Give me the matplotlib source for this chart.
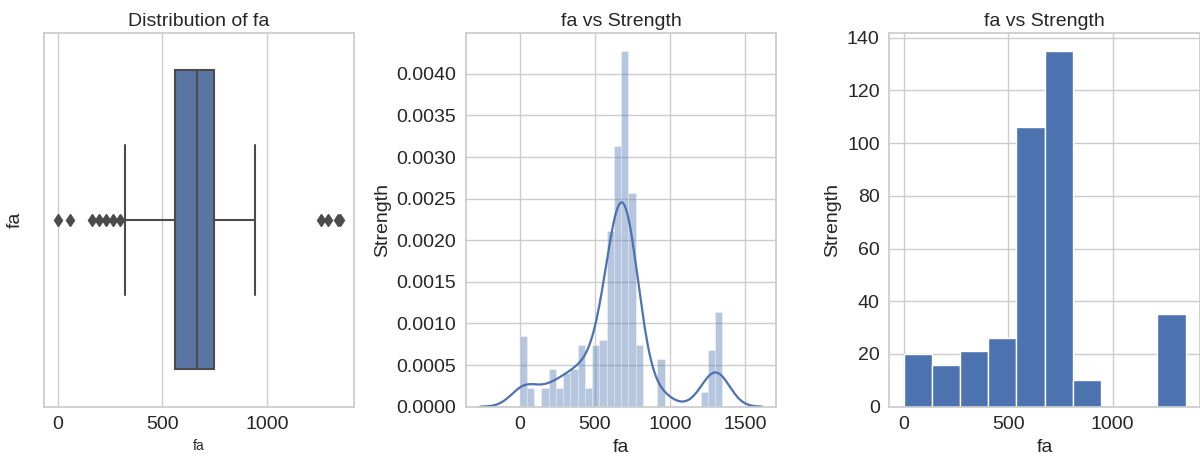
import numpy as np
import matplotlib
matplotlib.use("Agg")
import matplotlib.pyplot as plt
import seaborn as sns

# ---- fine aggregate (fa) data summary ----
fa_min = 0
fa_max = 1349

# box plot statistics
box_q1 = 561
box_median = 665
box_q3 = 745
whisker_low = 323
whisker_high = 942
outliers = [0, 59, 163, 197, 230, 264, 296, 1259, 1291, 1339, 1349]

# counts in 28 equal bins over [fa_min, fa_max] (density histogram + KDE)
fine_bin_counts = [15, 4, 0, 4, 8, 4, 7, 8, 13, 4, 13, 14, 37, 55, 75, 45,
                   13, 0, 0, 10, 0, 0, 0, 0, 0, 3, 12, 20]

# counts in 10 equal bins over [fa_min, fa_max]
coarse_bin_counts = [20, 16, 21, 26, 106, 135, 10, 0, 0, 35]

# ---- style ----
sns.set_style("whitegrid")
plt.rcParams["font.family"] = ["Liberation Sans", "DejaVu Sans"]
plt.rcParams["axes.linewidth"] = 1.25
plt.rcParams["grid.linewidth"] = 1.0
TXT = "#262626"
BLUE = "#4c72b0"
FS = 14

fig = plt.figure(figsize=(12, 4.63), dpi=100)
w = 0.2585
bottom, height = 0.1216, 0.807
ax1 = fig.add_axes([0.0364, bottom, w, height])
ax2 = fig.add_axes([0.3883, bottom, w, height])
ax3 = fig.add_axes([0.7412, bottom, w, height])

# ---- box plot ----
box_color = sns.desaturate(BLUE, 0.75)
line_gray = "#4b4b4b"
stats = [dict(med=box_median, q1=box_q1, q3=box_q3,
              whislo=whisker_low, whishi=whisker_high, fliers=outliers)]
ax1.bxp(stats, positions=[0], widths=0.8, orientation="horizontal",
        patch_artist=True,
        boxprops=dict(facecolor=box_color, edgecolor=line_gray, linewidth=1.5),
        medianprops=dict(color=line_gray, linewidth=1.5),
        whiskerprops=dict(color=line_gray, linewidth=1.5),
        capprops=dict(color=line_gray, linewidth=1.5),
        flierprops=dict(marker="d", markerfacecolor=line_gray,
                        markeredgecolor=line_gray, markersize=6))
ax1.set_ylim(0.5, -0.5)
ax1.set_yticks([])
ax1.yaxis.grid(False)
ax1.xaxis.grid(True)
ax1.set_title("Distribution of fa", fontsize=FS, color=TXT, pad=5)
ax1.set_xlabel("fa", fontsize=10, color=TXT)
ax1.set_ylabel("fa", fontsize=FS, color=TXT, labelpad=14)

# ---- density histogram with KDE ----
fine = np.asarray(fine_bin_counts, dtype=float)
edges = np.linspace(fa_min, fa_max, len(fine) + 1)
widths = np.diff(edges)
n = fine.sum()
density = fine / (n * widths)
ax2.bar(edges[:-1], density, width=widths, align="edge", color=BLUE,
        alpha=0.4, edgecolor="white", linewidth=0.5)

centers = (edges[:-1] + edges[1:]) / 2
mean = np.sum(fine * centers) / n
std = np.sqrt(np.sum(fine * (centers - mean) ** 2) / (n - 1))
bw = std * n ** (-1 / 5)  # Scott's rule
grid = np.linspace(fa_min - 3 * bw, fa_max + 3 * bw, 200)
kde = np.sum(fine[:, None] * np.exp(-0.5 * ((grid[None, :] - centers[:, None]) / bw) ** 2),
             axis=0) / (n * bw * np.sqrt(2 * np.pi))
ax2.plot(grid, kde, color=BLUE, linewidth=1.6)
ax2.set_xticks([0, 500, 1000, 1500])
ax2.set_title("fa vs Strength", fontsize=FS, color=TXT, pad=5)
ax2.set_xlabel("fa", fontsize=FS, color=TXT)
ax2.set_ylabel("Strength", fontsize=FS, color=TXT)

# ---- count histogram ----
coarse = np.asarray(coarse_bin_counts, dtype=float)
edges10 = np.linspace(fa_min, fa_max, len(coarse) + 1)
ax3.bar(edges10[:-1], coarse, width=np.diff(edges10), align="edge",
        color=BLUE, edgecolor="white", linewidth=1.0)
ax3.set_title("fa vs Strength", fontsize=FS, color=TXT, pad=5)
ax3.set_xlabel("fa", fontsize=FS, color=TXT)
ax3.set_ylabel("Strength", fontsize=FS, color=TXT)

for ax in (ax1, ax2, ax3):
    ax.tick_params(labelsize=FS, colors=TXT, pad=7, length=0)
    for s in ax.spines.values():
        s.set_color("#cccccc")
    ax.set_axisbelow(True)

fig.savefig("out.png", dpi=100)
